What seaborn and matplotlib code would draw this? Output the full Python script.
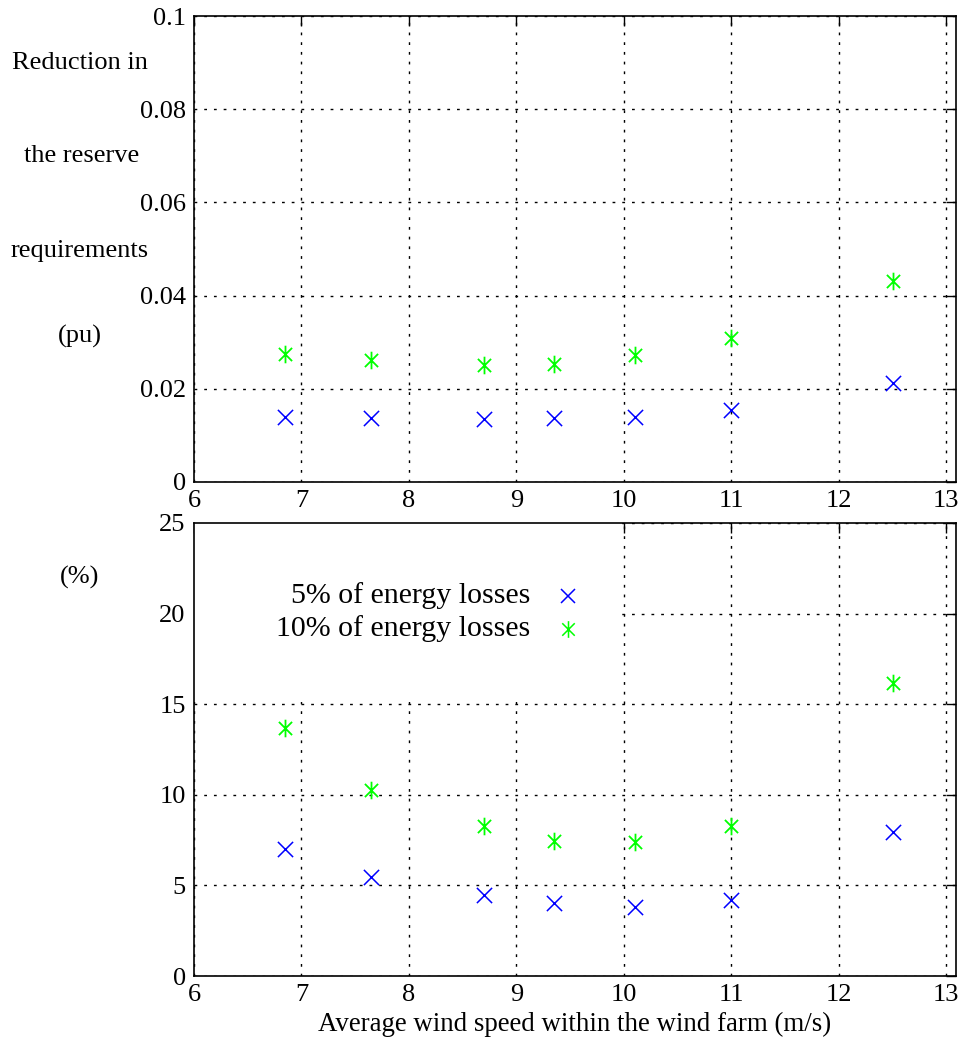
import numpy as np
import pandas as pd
import matplotlib
matplotlib.use("Agg")
import matplotlib.pyplot as plt
from matplotlib.path import Path
from matplotlib.patches import Rectangle
import seaborn as sns

# ---- data ----
wind_speed = [6.85, 7.645, 8.70, 9.35, 10.10, 11.00, 12.50]
pu_5 = [0.0140, 0.0138, 0.0136, 0.0137, 0.0139, 0.0155, 0.0212]
pu_10 = [0.0274, 0.0262, 0.0252, 0.0254, 0.0272, 0.0308, 0.0432]
pct_5 = [7.01, 5.45, 4.45, 4.01, 3.81, 4.19, 7.93]
pct_10 = [13.69, 10.28, 8.26, 7.45, 7.41, 8.26, 16.17]
series_labels = ["5% of energy losses", "10% of energy losses"]
x_ticks = [6, 7, 8, 9, 10, 11, 12, 13]
top_yticks = [0, 0.02, 0.04, 0.06, 0.08, 0.1]
top_yticklabels = ["0", "0.02", "0.04", "0.06", "0.08", "0.1"]
bot_yticks = [0, 5, 10, 15, 20, 25]
top_ylabel_lines = ["Reduction in", "the reserve", "requirements", "(pu)"]
bot_ylabel = "(%)"
xlabel = "Average wind speed within the wind farm (m/s)"

sns.set_theme(style="white")
plt.rcParams["font.family"] = ["Liberation Serif", "DejaVu Serif"]
plt.rcParams["text.color"] = "black"
plt.rcParams["axes.labelcolor"] = "black"
plt.rcParams["xtick.color"] = "black"
plt.rcParams["ytick.color"] = "black"

BLUE = "#0000ff"
GREEN = "#00ff00"
FS = 19
KEY_FS = 21.5

# asterisk marker: vertical bar + X
ast = Path([(0, -1), (0, 1), (-0.75, -0.75), (0.75, 0.75), (-0.75, 0.75), (0.75, -0.75)],
           [Path.MOVETO, Path.LINETO, Path.MOVETO, Path.LINETO, Path.MOVETO, Path.LINETO])

fig = plt.figure(figsize=(9.59, 10.48), dpi=100)
ax1 = fig.add_axes([0.2023, 0.5401, 0.9969 - 0.2023, 0.9847 - 0.5401])
ax2 = fig.add_axes([0.2023, 0.0687, 0.9969 - 0.2023, 0.5010 - 0.0687])

df = pd.DataFrame({"x": wind_speed, "pu5": pu_5, "pu10": pu_10, "p5": pct_5, "p10": pct_10})

for ax, c5, c10 in [(ax1, "pu5", "pu10"), (ax2, "p5", "p10")]:
    ax.set_axisbelow(True)
    sns.scatterplot(data=df, x="x", y=c5, ax=ax, marker="x", s=120, color=BLUE,
                    linewidth=1.1, zorder=3)
    sns.scatterplot(data=df, x="x", y=c10, ax=ax, marker=ast, s=160, color=GREEN,
                    edgecolor=GREEN, linewidth=1.3, zorder=3)
    ax.set_xlim(6, 13.09)
    ax.set_xticks(x_ticks)
    ax.set_xticklabels([str(t) for t in x_ticks])
    ax.grid(True, color="black", linestyle=(0, (2, 5)), linewidth=1.0)
    ax.tick_params(direction="in", length=7, width=1, top=True, right=True,
                   labelsize=FS, colors="black", pad=6)
    for s in ax.spines.values():
        s.set_visible(True)
        s.set_color("black")
        s.set_linewidth(1.2)
    ax.set_xlabel("")
    ax.set_ylabel("")

ax1.set_ylim(0, 0.1)
ax1.set_yticks(top_yticks)
ax1.set_yticklabels(top_yticklabels)

ax2.set_ylim(0, 25)
ax2.set_yticks(bot_yticks)
ax2.set_yticklabels([str(t) for t in bot_yticks])
ax2.set_xlabel(xlabel, fontsize=19.4, labelpad=4, color="black")

# multi-line y label of top panel
ylab_y = [63, 156, 251, 336]
ylab_x = [80, 82, 80, 80]
for txt, yy, xx in zip(top_ylabel_lines, ylab_y, ylab_x):
    fig.text(xx / 959, 1 - yy / 1048, txt, ha="center", va="center", fontsize=FS, color="black")
fig.text(80 / 959, 1 - 577 / 1048, bot_ylabel, ha="center", va="center", fontsize=FS, color="black")

# opaque key box
ax2.add_patch(Rectangle((0, 0.605), 0.56, 0.395, transform=ax2.transAxes,
                        facecolor="white", edgecolor="none", zorder=1))
key_text_x = (530 - 194) / 762
key_mark_x = (568 - 194) / 762
for lab, yy, mk, col, sz in [(series_labels[0], 596, "x", BLUE, 10),
                             (series_labels[1], 629, ast, GREEN, 12)]:
    ya = (976 - yy) / 453
    ax2.text(key_text_x, ya, lab, transform=ax2.transAxes, ha="right", va="center",
             fontsize=KEY_FS, zorder=4, color="black")
    ax2.plot([key_mark_x], [ya], transform=ax2.transAxes, marker=mk, markersize=sz,
             color=col, markeredgecolor=col, markeredgewidth=1.1, linestyle="none",
             zorder=4, clip_on=False)

fig.savefig("out.png", dpi=100)
